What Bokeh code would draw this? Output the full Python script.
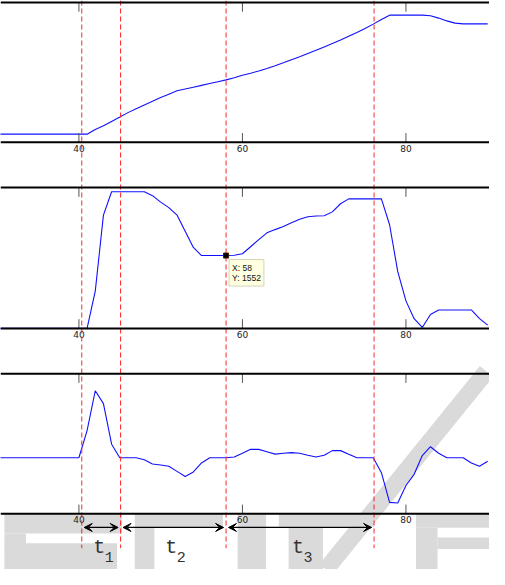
from bokeh.plotting import figure
from bokeh.models import Range1d, Span, Arrow, VeeHead, Label
from bokeh.core.properties import value
from bokeh.embed import file_html
from bokeh.resources import INLINE

# ---------------- data ----------------
x = list(range(30, 91))

position = [58] * 12 + [
    92, 118, 149, 180, 212, 240, 267, 294, 320, 344, 368,      # 42-52
    381, 394, 407, 420, 433, 446,                              # 53-58
    462, 479, 494, 510, 527,                                   # 59-63
    547, 568, 590, 612, 635, 658, 682, 707, 732, 758, 785,     # 64-74
    814, 845, 878, 909, 909, 909, 909, 909,                    # 75-82
    905, 888, 868, 852, 847, 847, 847, 847]                    # 83-90

velocity = [0] * 12 + [
    795, 2414, 2911, 2911, 2911, 2911, 2911, 2828, 2690, 2573, 2414,  # 42-52
    2070, 1725, 1552, 1552, 1552, 1552,                               # 53-58
    1560, 1590, 1740, 1890, 2036,                                     # 59-63
    2105, 2173, 2250, 2325, 2380, 2395, 2400, 2483, 2656, 2760, 2760,  # 64-74
    2760, 2760, 2760, 2208, 1208, 587, 207, 20,                       # 75-82
    298, 393, 393, 393, 393, 393, 207, 70]                            # 83-90

acceleration = [0] * 11 + [
    194, 478, 386, 97, 0, 0, 0, -14, -44, -52, -60, -97,             # 41-52
    -134, -101, -37, 0, 0, 0,                                        # 53-58
    5, 32, 60, 60, 43,                                               # 59-63
    26, 32, 37, 32, 18, 5, 18, 51, 51, 25, 0,                        # 64-74
    0, 0, -106, -318, -323, -198, -118, 16,                          # 75-82
    79, 32, 0, 0, 0, -37, -60, -25]                                  # 83-90

tick_values = [40, 60, 80]
tick_labels = ["40", "60", "80"]
phase_marks = [40.35, 45.1, 58, 76.1]
phase_labels = ["1", "2", "3"]
tip_x = 58
tip_y = velocity[x.index(tip_x)]

# ---------------- layout ----------------
W, H = 489, 569
REF_TOP, REF_BOT = 4, 590          # layout coordinate (pixel-like) range

def band_range(top_px, bot_px, lo, hi):
    k = (hi - lo) / (bot_px - top_px)
    return Range1d(lo - (REF_BOT - bot_px) * k, hi + (top_px - REF_TOP) * k)

panels = [
    ("p1", position, 6.0, 150.0, 0, 1000),
    ("p2", velocity, 196.7, 341.7, 0, 3000),
    ("p3", acceleration, 388.3, 532.7, -400, 600),
]

p = figure(width=W, height=H, output_backend="svg", toolbar_location=None,
           x_range=Range1d(30.41, 90.22), y_range=Range1d(REF_BOT, REF_TOP),
           x_axis_type=None, y_axis_type=None, min_border=0)
p.outline_line_color = None
p.background_fill_color = "white"
p.border_fill_color = "white"
p.extra_x_ranges = {"px": Range1d(6, 505)}
p.extra_y_ranges = {name: band_range(t, b, lo, hi) for name, _, t, b, lo, hi in panels}

# ---------------- watermark (decoration) ----------------
wm = "#dadada"
wm_left = [10, 10, 10, 143, 143, 248, 290, 300, 430, 430, 452]
wm_right = [130, 32, 125, 233, 163, 277, 387, 335, 505, 452, 505]
wm_top = [533, 553, 563, 533, 547, 533, 533, 546, 533, 547, 557]
wm_bottom = [553, 565, 590, 547, 590, 590, 546, 590, 547, 590, 569]
p.quad(left=wm_left, right=wm_right, top=wm_top, bottom=wm_bottom,
       x_range_name="px", fill_color=wm, line_color=None)
p.segment(x0=[502], y0=[386], x1=[338], y1=[590], x_range_name="px",
          line_color=wm, line_width=17, line_cap="butt")

# ---------------- panels ----------------
tick_font = value("DejaVu Sans")
for name, vals, top, bot, lo, hi in panels:
    p.line(x, vals, y_range_name=name, line_color="#1010ff", line_width=1.1)
    for loc in (lo, hi):
        p.add_layout(Span(location=loc, dimension="width", y_range_name=name,
                          line_color="black", line_width=2))
    p.segment(x0=tick_values, x1=tick_values, y0=[top] * 3, y1=[top + 9.5] * 3,
              line_color="#555555", line_width=1)
    p.segment(x0=tick_values, x1=tick_values, y0=[bot - 9.5] * 3, y1=[bot] * 3,
              line_color="#555555", line_width=1)
    p.text(x=tick_values, y=[bot + 2.5] * 3, text=tick_labels, text_align="center",
           text_baseline="top", text_font=tick_font, text_font_size="9px",
           text_color="#222222")

# ---------------- phase markers ----------------
p.segment(x0=phase_marks, x1=phase_marks, y0=[REF_TOP] * 4, y1=[568] * 4,
          line_color="#ff2222", line_width=1, line_dash="5 3")

gap = 0.3
mids = []
for i in range(3):
    a, b = phase_marks[i], phase_marks[i + 1]
    mids.append((a + b) / 2)
    p.add_layout(Arrow(start=VeeHead(size=8, fill_color="black", line_color="black"),
                       end=VeeHead(size=8, fill_color="black", line_color="black"),
                       x_start=a + gap, x_end=b - gap, y_start=546.7, y_end=546.7,
                       line_color="black", line_width=1.2))

mono = value("Liberation Mono")
p.text(x=mids, y=[567] * 3, text=["t"] * 3, x_offset=-2, text_align="center",
       text_baseline="alphabetic", text_font=mono, text_font_size="20px",
       text_color="#333333")
p.text(x=mids, y=[577] * 3, text=phase_labels, x_offset=8, text_align="center",
       text_baseline="alphabetic", text_font=mono, text_font_size="15px",
       text_color="#333333")

# ---------------- data tip ----------------
p.scatter([tip_x], [tip_y], y_range_name="p2", marker="square", size=5,
          fill_color="black", line_color="#332200")
p.add_layout(Label(x=tip_x, y=tip_y, y_range_name="p2",
                   text=f"X: {tip_x}\nY: {tip_y}", x_offset=3, y_offset=-4,
                   text_baseline="top", text_font="Liberation Sans",
                   text_font_size="8.5px", text_color="#111111",
                   text_line_height=1.05,
                   background_fill_color="#ffffe1", border_line_color="#d4d4b8",
                   padding=3))

open("out.html", "w").write(file_html(p, INLINE))
